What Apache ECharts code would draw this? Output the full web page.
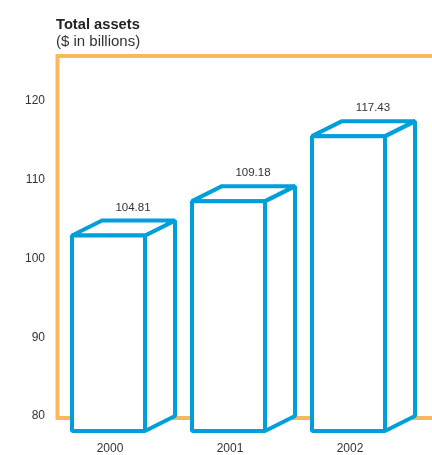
<!DOCTYPE html>
<html>
<head>
<meta charset="utf-8">
<script src="https://cdn.jsdelivr.net/npm/echarts@6/dist/echarts.min.js"></script>
<style>
html,body{margin:0;padding:0;background:#fff;}
#chart{width:432px;height:455px;}
</style>
</head>
<body>
<div id="chart"></div>
<script>
const categories = ['2000', '2001', '2002'];
const assets = [104.81, 109.18, 117.43];
const valueLabels = ['104.81', '109.18', '117.43'];
const yMin = 80;
const yMax = 125.7;
const yInterval = 10;

const BLUE = '#009FDA';
const ORANGE = '#F8B860';
const TEXT = '#333333';
const FONT = '"Liberation Sans", Arial, Helvetica, sans-serif';

const chart = echarts.init(document.getElementById('chart'), null, {renderer: 'canvas'});

function renderBox(params, api) {
  const idx = api.value(0);
  const val = api.value(1);
  const top = api.coord([idx, val]);
  const base = api.coord([idx, yMin]);
  const c = top[0];
  const dx = 30, dy = 15;
  const fl = c - 38, fr = c + 35;
  const bTop = top[1], bBot = base[1];
  const fTop = bTop + dy, fBot = bBot + dy;
  const style = {fill: '#ffffff', stroke: BLUE, lineWidth: 4, lineJoin: 'bevel'};
  return {
    type: 'group',
    children: [
      {type: 'polygon', shape: {points: [[fr, fTop], [fr + dx, bTop], [fr + dx, bBot], [fr, fBot]]}, style: style},
      {type: 'polygon', shape: {points: [[fl, fTop], [fl + dx, bTop], [fr + dx, bTop], [fr, fTop]]}, style: style},
      {type: 'rect', shape: {x: fl, y: fTop, width: fr - fl, height: fBot - fTop}, style: style},
      {type: 'text', style: {text: valueLabels[params.dataIndex], x: c + 23, y: bTop - 13, align: 'center', verticalAlign: 'middle', fill: TEXT, font: '11.5px ' + FONT}}
    ]
  };
}

chart.setOption({
  animation: false,
  backgroundColor: '#ffffff',
  title: {
    text: 'Total assets',
    subtext: '($ in billions)',
    left: 56,
    top: 16.5,
    padding: 0,
    itemGap: 0,
    textStyle: {fontFamily: FONT, fontWeight: 'bold', fontSize: 14.7, color: '#222', lineHeight: 17},
    subtextStyle: {fontFamily: FONT, fontSize: 15, color: '#333', lineHeight: 17}
  },
  graphic: [{
    type: 'rect', z: 0,
    shape: {x: 57.5, y: 56, width: 430, height: 362},
    style: {fill: 'none', stroke: ORANGE, lineWidth: 4}
  }],
  grid: {left: 50, right: 22, top: 56, bottom: 37},
  xAxis: {
    type: 'category',
    data: categories,
    axisLine: {show: false},
    axisTick: {show: false},
    axisLabel: {margin: 27, fontSize: 12, color: TEXT, fontFamily: FONT}
  },
  yAxis: {
    type: 'value',
    min: yMin,
    max: yMax,
    interval: yInterval,
    splitLine: {show: false},
    axisLine: {show: false},
    axisTick: {show: false},
    axisLabel: {
      margin: 5, fontSize: 12, color: TEXT, fontFamily: FONT, padding: [0, 0, 4, 0],
      formatter: function (v) { return (Math.abs(v % yInterval) < 1e-6) ? String(v) : ''; }
    }
  },
  series: [{
    type: 'custom',
    z: 5,
    renderItem: renderBox,
    encode: {x: 0, y: 1},
    data: categories.map(function (c, i) { return [i, assets[i]]; })
  }]
});
</script>
</body>
</html>
